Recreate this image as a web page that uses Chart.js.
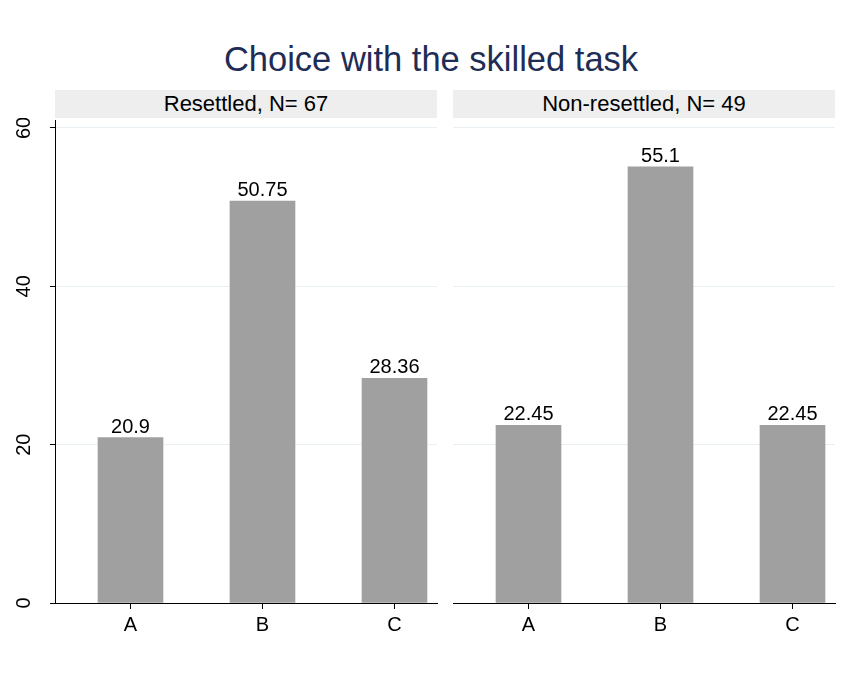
<!DOCTYPE html>
<html>
<head>
<meta charset="utf-8">
<script src="https://cdn.jsdelivr.net/npm/chart.js@4.4.1/dist/chart.umd.min.js"></script>
<style>
  body { margin: 0; background: #fff; }
  #wrap { position: relative; width: 862px; height: 675px; font-family: "Liberation Sans", Arial, sans-serif; }
  #title { position: absolute; left: 0; top: 39px; width: 862px; height: 40px; line-height: 40px;
           text-align: center; font-size: 34.5px; color: #1e2d55; }
  .strip { position: absolute; top: 90px; height: 28px; line-height: 28px; background: #eeeeee;
           text-align: center; font-size: 22px; color: #000; }
  canvas { position: absolute; top: 118px; }
</style>
</head>
<body>
<div id="wrap">
  <div id="title">Choice with the skilled task</div>
  <div class="strip" id="stripL" style="left:55px;width:382px;"></div>
  <div class="strip" id="stripR" style="left:453px;width:382px;"></div>
  <canvas id="left" width="445" height="540" style="left:0px;"></canvas>
  <canvas id="right" width="400" height="540" style="left:445px;"></canvas>
</div>
<script>
// data
const categories = ['A', 'B', 'C'];
const panelTitles = ['Resettled, N= 67', 'Non-resettled, N= 49'];
const resettled = [20.9, 50.75, 28.36];
const nonResettled = [22.45, 55.1, 22.45];
const yTicks = [0, 20, 40, 60];

const FONT = '"Liberation Sans", Arial, sans-serif';
document.getElementById('stripL').textContent = panelTitles[0];
document.getElementById('stripR').textContent = panelTitles[1];

// prints the value above each bar
const barLabels = {
    id: 'barLabels',
    afterDatasetsDraw(chart) {
        const ctx = chart.ctx;
        const meta = chart.getDatasetMeta(0);
        const vals = chart.data.datasets[0].data;
        ctx.save();
        ctx.font = '20px ' + FONT;
        ctx.fillStyle = '#000';
        ctx.textAlign = 'center';
        ctx.textBaseline = 'alphabetic';
        meta.data.forEach((bar, i) => {
            ctx.fillText(String(vals[i].y), bar.x, bar.y - 5);
        });
        ctx.restore();
    }
};

// rotated y tick labels, Stata style
const yLabels = {
    id: 'yLabels',
    afterDraw(chart) {
        if (!chart.options.plugins.yLabels.show) return;
        const ctx = chart.ctx;
        const y = chart.scales.y;
        ctx.save();
        ctx.font = '20px ' + FONT;
        ctx.fillStyle = '#000';
        ctx.textAlign = 'center';
        ctx.textBaseline = 'middle';
        y.ticks.forEach(t => {
            ctx.save();
            ctx.translate(24, y.getPixelForValue(t.value));
            ctx.rotate(-Math.PI / 2);
            ctx.fillText(String(t.value), 0, 0);
            ctx.restore();
        });
        ctx.restore();
    }
};

function makePanel(id, values, isLeft) {
    const ctx = document.getElementById(id).getContext('2d');
    return new Chart(ctx, {
        type: 'bar',
        data: {
            datasets: [{
                data: values.map((v, i) => ({ x: i + 1, y: v })),
                backgroundColor: '#a0a0a0',
                borderWidth: 0,
                barThickness: 65
            }]
        },
        options: {
            responsive: false,
            animation: false,
            layout: { padding: { top: 2, right: isLeft ? 8 : 10, left: 0, bottom: 0 } },
            plugins: {
                legend: { display: false },
                tooltip: { enabled: false },
                yLabels: { show: isLeft }
            },
            scales: {
                x: {
                    type: 'linear',
                    offset: false,
                    min: 1 - 75.5 / 132,
                    max: 3 + 42.5 / 132,
                    afterBuildTicks: s => { s.ticks = categories.map((c, i) => ({ value: i + 1 })); },
                    afterFit: s => { s.height = 55; },
                    ticks: {
                        callback: v => categories[v - 1],
                        font: { size: 20, family: FONT },
                        color: '#000',
                        padding: 4,
                        maxRotation: 0
                    },
                    grid: { offset: false, drawOnChartArea: false, tickLength: 6, tickColor: '#000' },
                    border: { display: true, color: '#000', width: 1 }
                },
                y: {
                    min: 0,
                    max: 61,
                    afterBuildTicks: s => { s.ticks = yTicks.map(v => ({ value: v })); },
                    afterFit: s => { s.width = isLeft ? 55 : 8; },
                    ticks: { display: false },
                    grid: {
                        color: '#e8f0f3',
                        lineWidth: 1,
                        drawTicks: isLeft,
                        tickLength: 5,
                        tickColor: '#000'
                    },
                    border: { display: isLeft, color: '#000', width: 1 }
                }
            }
        },
        plugins: [barLabels, yLabels]
    });
}

makePanel('left', resettled, true);
makePanel('right', nonResettled, false);
</script>
</body>
</html>
